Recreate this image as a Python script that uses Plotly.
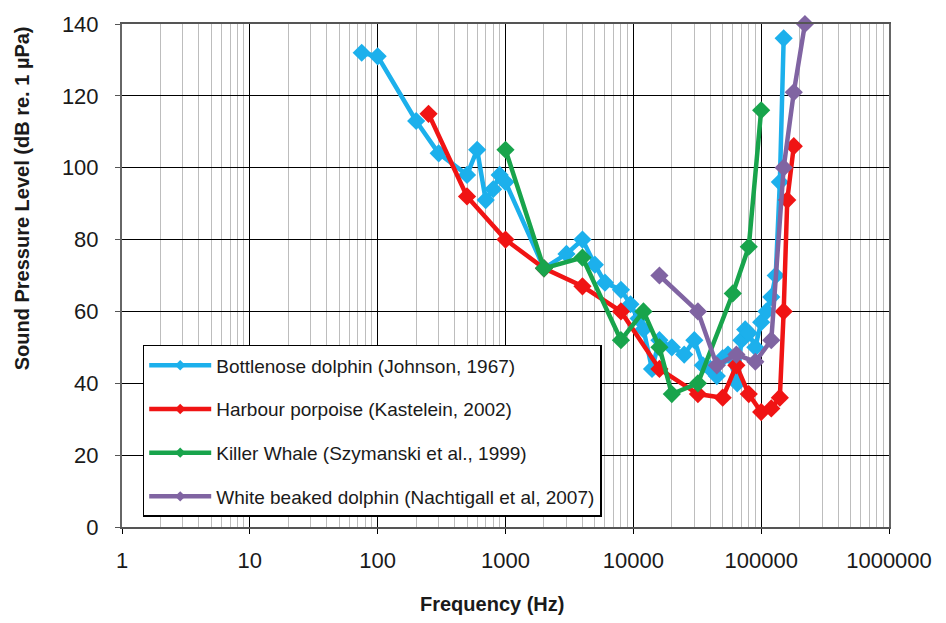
import plotly.graph_objects as go

# ---- data ----
bottlenose_f = [75, 100, 200, 300, 500, 600, 700, 800, 900, 1000, 2000, 3000, 4000, 5000, 6000,
                8000, 9500, 11000, 12000, 14000, 16000, 20000, 25000, 30000, 35000, 40000, 45000,
                50000, 55000, 65000, 70000, 75000, 80000, 90000, 100000, 110000, 120000, 130000,
                140000, 150000]
bottlenose_db = [132, 131, 113, 104, 98, 105, 91, 94, 98, 96, 72, 76, 80, 73, 68,
                 66, 62, 58, 55, 44, 52, 50, 48, 52, 45, 44, 42,
                 47, 48, 40, 52, 55, 54, 50, 57, 60, 64, 70,
                 96, 136]

porpoise_f = [250, 500, 1000, 2000, 4000, 8000, 16000, 32000, 50000, 64000, 80000, 100000,
              120000, 140000, 150000, 160000, 180000]
porpoise_db = [115, 92, 80, 72, 67, 60, 44, 37, 36, 45, 37, 32, 33, 36, 60, 91, 106]

orca_f = [1000, 2000, 4000, 8000, 12000, 16000, 20000, 32000, 60000, 80000, 100000]
orca_db = [105, 72, 75, 52, 60, 50, 37, 40, 65, 78, 116]

wbd_f = [16000, 32000, 45000, 64000, 90000, 120000, 150000, 180000, 220000]
wbd_db = [70, 60, 45, 48, 46, 52, 100, 121, 140]

names = ["Bottlenose dolphin (Johnson, 1967)",
         "Harbour porpoise (Kastelein, 2002)",
         "Killer Whale (Szymanski et al., 1999)",
         "White beaked dolphin (Nachtigall et al, 2007)"]
colors = ["#1CB0EC", "#F01414", "#18A44C", "#8064A2"]

x_tickvals = [1, 10, 100, 1000, 10000, 100000, 1000000]
x_ticktext = ["1", "10", "100", "1000", "10000", "100000", "1000000"]

series = [(bottlenose_f, bottlenose_db), (porpoise_f, porpoise_db),
          (orca_f, orca_db), (wbd_f, wbd_db)]

fig = go.Figure()
for (fx, fy), name, col in zip(series, names, colors):
    fig.add_trace(go.Scatter(
        x=fx, y=fy, mode="lines+markers", name=name, showlegend=False,
        line=dict(color=col, width=4.5),
        marker=dict(symbol="diamond", size=14, color=col),
        cliponaxis=False,
    ))
# legend entries with small markers
for i, (name, col) in enumerate(zip(names, colors)):
    fig.add_trace(go.Scatter(
        x=[None], y=[None], mode="lines+markers", name=name, legendgroup=f"g{i}",
        line=dict(color=col, width=4.5),
        marker=dict(symbol="diamond", size=8, color=col),
    ))

minor_vals = [m * 10 ** d for d in range(6) for m in range(2, 10)]

fig.update_layout(
    width=946, height=623,
    margin=dict(l=122, r=57, t=21, b=96),
    paper_bgcolor="white", plot_bgcolor="white",
    font=dict(family="Liberation Sans, Arial, sans-serif", color="#1a1a1a"),
    showlegend=True,
    legend=dict(
        x=0.027, y=0.362, xanchor="left", yanchor="top",
        bgcolor="white", bordercolor="#000000", borderwidth=1.5,
        font=dict(size=19, color="#1a1a1a"),
        tracegroupgap=16, itemwidth=62,
    ),
    xaxis=dict(
        type="log", range=[0, 6],
        tickvals=x_tickvals, ticktext=x_ticktext,
        tickfont=dict(size=22), ticks="outside", ticklen=5, tickcolor="#000",
        ticklabelstandoff=8,
        showgrid=True, gridcolor="#000000", gridwidth=1,
        minor=dict(tickvals=minor_vals, showgrid=True, gridcolor="#BDBDBD", gridwidth=1, ticks=""),
        showline=True, linecolor="#555555", linewidth=2, mirror=True,
        zeroline=False,
    ),
    yaxis=dict(
        range=[0, 140], dtick=20, tick0=0,
        tickfont=dict(size=22), ticks="outside", ticklen=5, tickcolor="#555",
        ticklabelstandoff=12,
        showgrid=True, gridcolor="#000000", gridwidth=1,
        showline=True, linecolor="#666666", linewidth=2, mirror=True,
        zeroline=False,
    ),
    annotations=[
        dict(text="<b>Sound Pressure Level (dB re. 1 µPa)</b>", textangle=-90,
             xref="paper", yref="paper", x=-0.130, y=0.654, showarrow=False,
             font=dict(size=20, color="#1a1a1a"), xanchor="center", yanchor="middle"),
        dict(text="<b>Frequency (Hz)</b>",
             xref="paper", yref="paper", x=0.482, y=-0.154, showarrow=False,
             font=dict(size=20, color="#1a1a1a"), xanchor="center", yanchor="middle"),
    ],
)

fig.write_html("out.html")
